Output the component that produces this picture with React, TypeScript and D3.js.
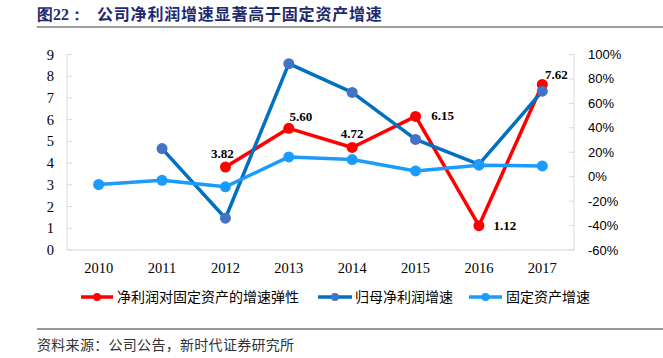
import * as d3 from 'd3';

const years = ['2010', '2011', '2012', '2013', '2014', '2015', '2016', '2017'];
// 净利润对固定资产的增速弹性 (left axis), starts in 2012
const elasticity = [null, null, 3.82, 5.6, 4.72, 6.15, 1.12, 7.62];
// 归母净利润增速 (right axis, %)
const profitGrowth = [null, 23, -34, 92.5, 69, 30.5, 10, 70];
// 固定资产增速 (right axis, %)
const assetGrowth = [-6.4, -3, -8.3, 16.2, 14, 4.7, 9.4, 8.8];
const leftTicks = [0, 1, 2, 3, 4, 5, 6, 7, 8, 9];
const rightTicks = [-60, -40, -20, 0, 20, 40, 60, 80, 100];
// label nudges for the elasticity values [dx, dy]
const labelNudge: Record<string, [number, number]> = {
  '2012': [-3, -9],
  '2013': [12, -7],
  '2014': [0, -9],
  '2015': [27, 4],
  '2016': [26, 4],
  '2017': [14, -5],
};

const W = 663;
const H = 358;
const plot = { left: 67, right: 574, top: 54.5, bottom: 250 };

const RED = '#FF0000';
const DARK = '#0070C0';
const DARK_DOT = '#4472C4';
const LIGHT = '#1B9CFC';

const serif = '"Liberation Serif", "Times New Roman", serif';
const cjk = '"Noto Sans CJK SC", sans-serif';

export default function App() {
  const x = d3.scalePoint<string>().domain(years).range([plot.left, plot.right]).padding(0.5);
  const yL = d3.scaleLinear().domain([0, 9]).range([plot.bottom, plot.top]);
  const yR = d3.scaleLinear().domain([-60, 100]).range([plot.bottom, plot.top]);

  const mk = (vals: (number | null)[], y: d3.ScaleLinear<number, number>) =>
    years
      .map((yr, i) => ({ yr, v: vals[i] }))
      .filter((d) => d.v != null)
      .map((d) => ({ yr: d.yr, v: d.v as number, cx: x(d.yr) as number, cy: y(d.v as number) }));

  const redPts = mk(elasticity, yL);
  const darkPts = mk(profitGrowth, yR);
  const lightPts = mk(assetGrowth, yR);

  const line = d3
    .line<{ cx: number; cy: number }>()
    .x((d) => d.cx)
    .y((d) => d.cy);

  const series = [
    { pts: redPts, stroke: RED, fill: RED },
    { pts: darkPts, stroke: DARK, fill: DARK_DOT },
    { pts: lightPts, stroke: LIGHT, fill: LIGHT },
  ];

  const legend = [
    { x0: 81, x1: 113, tx: 117, label: '净利润对固定资产的增速弹性', stroke: RED, fill: RED },
    { x0: 318, x1: 352, tx: 355, label: '归母净利润增速', stroke: DARK, fill: DARK_DOT },
    { x0: 469, x1: 502, tx: 506, label: '固定资产增速', stroke: LIGHT, fill: LIGHT },
  ];

  return (
    <svg
      width={W}
      height={H}
      viewBox={`0 0 ${W} ${H}`}
      style={{ position: 'absolute', left: 0, top: 0, background: '#fff' }}
    >
      {/* title */}
      <text x={37} y={20} fill="#1F2A6E" fontSize={16}>
        <tspan fontFamily={serif} fontWeight="bold">图22：</tspan>
      </text>
      <text x={97} y={20} fill="#1F2A6E" fontSize={16} fontFamily={cjk} fontWeight={700} letterSpacing={0.8}>
        公司净利润增速显著高于固定资产增速
      </text>
      <line x1={37} x2={W} y1={27} y2={27} stroke="#7F7F7F" strokeWidth={1.5} />

      {/* axes */}
      <line x1={plot.left} x2={plot.left} y1={plot.top} y2={plot.bottom} stroke="#D9D9D9" />
      <line x1={plot.right} x2={plot.right} y1={plot.top} y2={plot.bottom} stroke="#D9D9D9" />
      <line x1={plot.left} x2={plot.right} y1={plot.bottom} y2={plot.bottom} stroke="#D9D9D9" />
      {leftTicks.map((t) => (
        <g key={'l' + t}>
          <line x1={plot.left} x2={plot.left + 5} y1={yL(t)} y2={yL(t)} stroke="#D9D9D9" />
          <text x={54} y={yL(t)} dy="0.35em" textAnchor="end" fontFamily={serif} fontSize={14.5} fill="#000">
            {t}
          </text>
        </g>
      ))}
      {rightTicks.map((t) => (
        <g key={'r' + t}>
          <line x1={plot.right - 5} x2={plot.right} y1={yR(t)} y2={yR(t)} stroke="#D9D9D9" />
          <text
            x={588}
            y={yR(t)}
            dy="0.35em"
            fontFamily='"Liberation Sans", Arial, sans-serif'
            fontSize={13}
            fill="#000"
          >
            {t + '%'}
          </text>
        </g>
      ))}
      {years.map((yr) => (
        <text key={yr} x={x(yr)} y={273} textAnchor="middle" fontFamily={serif} fontSize={14.5} fill="#000">
          {yr}
        </text>
      ))}

      {/* series */}
      {series.map((s, i) => (
        <g key={i}>
          <path d={line(s.pts) || ''} fill="none" stroke={s.stroke} strokeWidth={3.5} strokeLinejoin="round" />
          {s.pts.map((p) => (
            <circle key={p.yr} cx={p.cx} cy={p.cy} r={5.5} fill={s.fill} />
          ))}
        </g>
      ))}

      {/* elasticity labels */}
      {redPts.map((p) => {
        const [dx, dy] = labelNudge[p.yr];
        return (
          <text
            key={'lab' + p.yr}
            x={p.cx + dx}
            y={p.cy + dy}
            textAnchor="middle"
            fontFamily={serif}
            fontWeight="bold"
            fontSize={13}
            fill="#000"
          >
            {p.v.toFixed(2)}
          </text>
        );
      })}

      {/* legend */}
      {legend.map((l) => (
        <g key={l.label}>
          <line x1={l.x0} x2={l.x1} y1={297} y2={297} stroke={l.stroke} strokeWidth={3.5} />
          <circle cx={(l.x0 + l.x1) / 2} cy={297} r={4} fill={l.fill} />
          <text x={l.tx} y={297} dy="0.35em" fontFamily={cjk} fontSize={14} fill="#000">
            {l.label}
          </text>
        </g>
      ))}

      {/* footer */}
      <line x1={37} x2={W} y1={329} y2={329} stroke="#333" strokeWidth={1} />
      <text x={37} y={345} dy="0.35em" fontFamily={cjk} fontSize={14} fill="#333" letterSpacing={0.3}>
        资料来源：公司公告，新时代证券研究所
      </text>
    </svg>
  );
}
